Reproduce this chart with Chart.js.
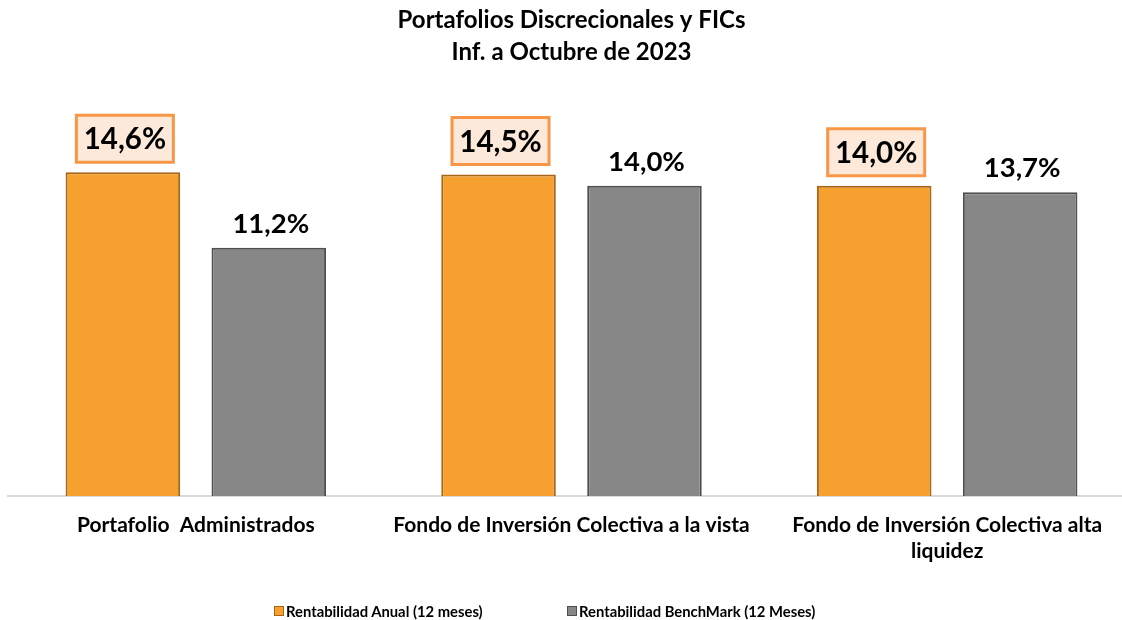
<!DOCTYPE html>
<html>
<head>
<meta charset="utf-8">
<script src="https://cdn.jsdelivr.net/npm/chart.js@4.4.0/dist/chart.umd.min.js"></script>
<style>
  html, body { margin:0; padding:0; background:#fff; overflow:hidden; }
  #clip { position:relative; width:1122px; height:620px; overflow:hidden; }
  #wrap { position:absolute; left:0; top:0; width:1136px; height:620px; }
  #legend { position:absolute; top:603px; left:0; width:1122px; height:16px; font-family:Lato, "Open Sans", sans-serif; font-weight:bold; font-size:14.8px; color:#000; }
  .li { position:absolute; top:0; display:flex; align-items:center; white-space:nowrap; line-height:16px; }
  .sw { width:10px; height:10px; margin-right:2px; box-sizing:border-box; }
</style>
</head>
<body>
<div id="clip">
  <div id="wrap"><canvas id="c"></canvas></div>
  <div id="legend"></div>
</div>
<script>
const categories = [
  "Portafolio  Administrados",
  "Fondo de Inversión Colectiva a la vista",
  ["Fondo de Inversión Colectiva alta", "liquidez"]
];
const seriesNames = ["Rentabilidad Anual (12 meses)", "Rentabilidad BenchMark (12 Meses)"];
const rentabilidadAnual = [14.6, 14.5, 14.0];
const rentabilidadBenchmark = [11.2, 14.0, 13.7];
const titleLines = ["Portafolios Discrecionales y FICs", "Inf. a Octubre de 2023"];

const FONT = "Lato, 'Open Sans', sans-serif";
const fillColors = ["#F6A12F", "#878787"];
const borderColors = ["#A86418", "#4F4F4F"];

const fmt = v => v.toFixed(1).replace('.', ',') + '%';

const labelPlugin = {
  id: 'valueLabels',
  afterDatasetsDraw(chart) {
    const ctx = chart.ctx;
    chart.data.datasets.forEach((ds, di) => {
      const meta = chart.getDatasetMeta(di);
      meta.data.forEach((bar, i) => {
        const txt = fmt(ds.data[i]);
        ctx.save();
        ctx.textAlign = 'center';
        ctx.textBaseline = 'middle';
        if (di === 0) {
          ctx.font = "bold 29.5px " + FONT;
          const w = 97, h = 47;
          const cx = bar.x + 2, bottom = bar.y - 10;
          ctx.fillStyle = '#FDE9DA';
          ctx.strokeStyle = '#F79646';
          ctx.lineWidth = 3;
          ctx.beginPath();
          ctx.rect(cx - w/2, bottom - h, w, h);
          ctx.fill();
          ctx.stroke();
          ctx.fillStyle = '#000';
          ctx.fillText(txt, cx, bottom - h/2 + 1);
        } else {
          ctx.font = "bold 27.5px " + FONT;
          ctx.fillStyle = '#000';
          ctx.fillText(txt, bar.x + 2, bar.y - 24);
        }
        ctx.restore();
      });
    });
  }
};

new Chart(document.getElementById('c'), {
  type: 'bar',
  data: {
    labels: categories,
    datasets: [
      { label: seriesNames[0], data: rentabilidadAnual, backgroundColor: fillColors[0], borderColor: borderColors[0], borderWidth: 2, borderSkipped: 'bottom' },
      { label: seriesNames[1], data: rentabilidadBenchmark, backgroundColor: fillColors[1], borderColor: borderColors[1], borderWidth: 2, borderSkipped: 'bottom' }
    ]
  },
  options: {
    responsive: true,
    maintainAspectRatio: false,
    animation: false,
    categoryPercentage: 0.777,
    barPercentage: 0.785,
    layout: { padding: { left: 8, right: 1, top: 0, bottom: 40 } },
    plugins: {
      legend: { display: false },
      tooltip: { enabled: false },
      title: {
        display: true,
        text: titleLines,
        color: '#000',
        font: { family: FONT, weight: 'bold', size: 24, lineHeight: 1.3333 },
        padding: { top: 4, bottom: 29 }
      }
    },
    scales: {
      y: { display: false, min: 0, max: 18 },
      x: {
        grid: { display: false, drawTicks: false, tickLength: 0 },
        border: { display: true, color: '#D9D9D9', width: 2 },
        ticks: { color: '#000', padding: 16, font: { family: FONT, weight: 'bold', size: 21, lineHeight: 1.238 } }
      }
    }
  },
  plugins: [labelPlugin]
});

// HTML legend
const legend = document.getElementById('legend');
const legendX = [274, 567];
seriesNames.forEach((name, i) => {
  const d = document.createElement('div');
  d.className = 'li';
  d.style.left = legendX[i] + 'px';
  const sw = document.createElement('span');
  sw.className = 'sw';
  sw.style.background = fillColors[i];
  sw.style.border = '1px solid ' + borderColors[i];
  const t = document.createElement('span');
  t.textContent = name;
  d.appendChild(sw); d.appendChild(t);
  legend.appendChild(d);
});
</script>
</body>
</html>
